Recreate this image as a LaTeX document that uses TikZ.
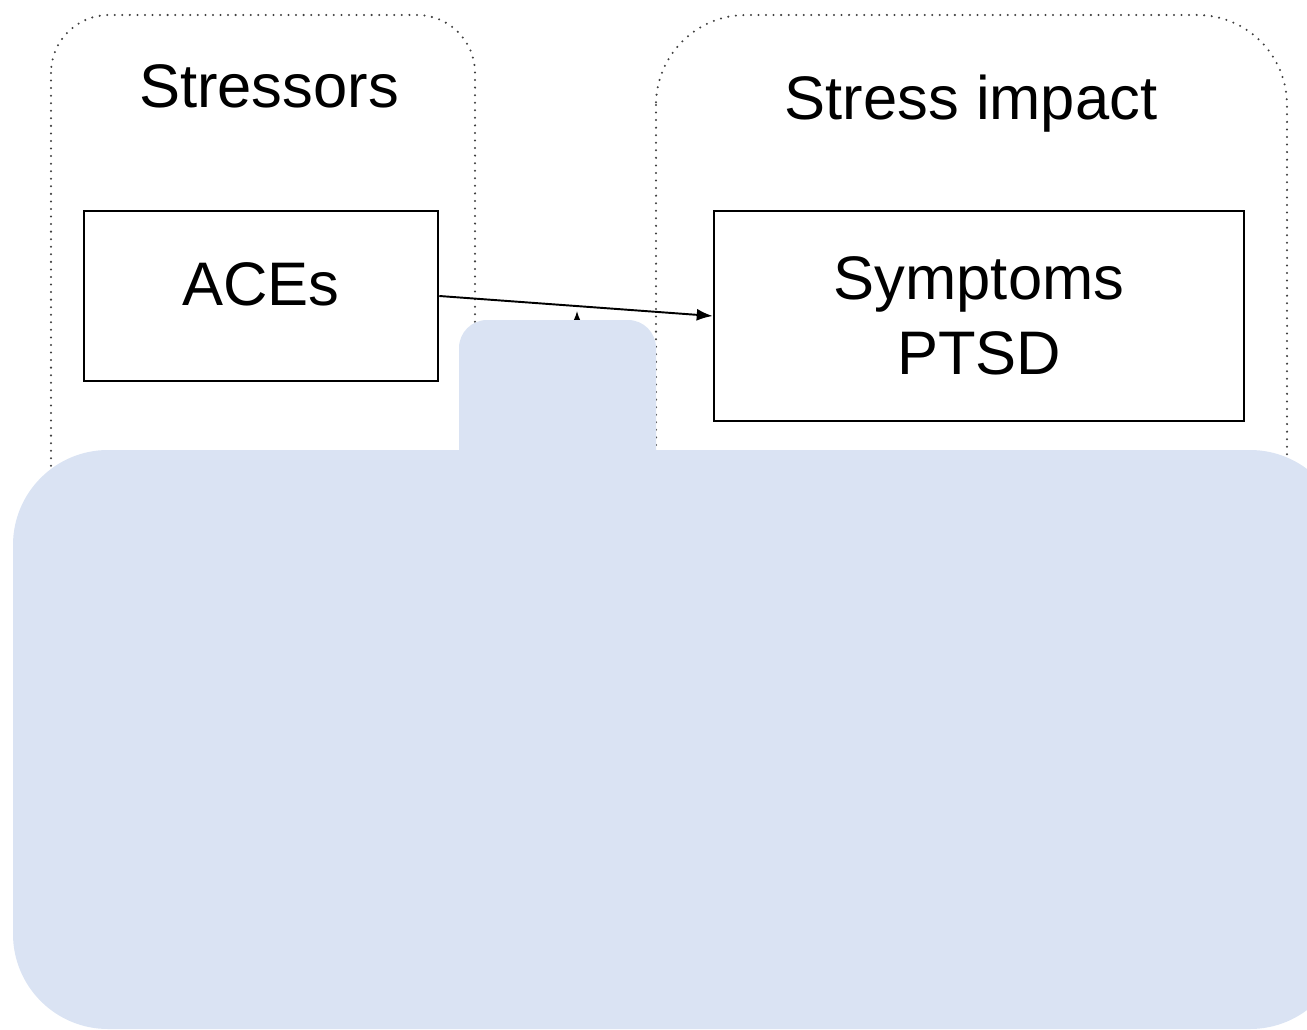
\documentclass[tikz,border=0pt]{standalone}
\usepackage{fontspec}
\setmainfont{Liberation Sans}
\usepackage{xcolor}
\usetikzlibrary{arrows.meta}
\definecolor{coverblue}{RGB}{218,227,243}
\tikzset{
    grp/.style={draw=black!75, line width=1.3pt, line cap=round, dash pattern=on 0pt off 4.3pt},
    box/.style={draw, rectangle, line width=1.5pt, inner sep=0pt, align=center, font=\fontsize{35}{42.7}\selectfont},
    title/.style={anchor=base, font=\fontsize{35}{42}\selectfont}}

\begin{document}
\begin{tikzpicture}[x=0.02cm,y=-0.02cm]
\useasboundingbox (0,0) rectangle (1307,1030);

% groups
\draw[grp, rounded corners=1.16cm] (51,15) rectangle (475,1000);
\draw[grp, rounded corners=1.8cm] (656,15) rectangle (1287,1000);
\node[title] (stressors) at (269,108) {Stressors};
\node[title] (impact) at (971,120) {Stress impact};

\node[box, minimum width=7.08cm, minimum height=3.4cm, text depth=0.48cm] (aces) at (261,296) {ACEs};
\node[box, minimum width=10.6cm, minimum height=4.2cm] (symptoms) at (979,316) {Symptoms\\PTSD};

\draw [-{Latex[length=3.2mm,width=2.4mm]}, line width=1.1pt] (aces.east) -- (symptoms.west);
\coordinate (below) at (577,430);
\coordinate (tip) at (577,311);
\draw [-{Latex[length=2mm]}, line width=0.8pt] (below) -- (tip);

% cover
\fill[coverblue, rounded corners=0.56cm] (459,320) rectangle (656,500);
\fill[coverblue, rounded corners=1.9cm] (13,450) rectangle (1345,1029);
\end{tikzpicture}
\end{document}
